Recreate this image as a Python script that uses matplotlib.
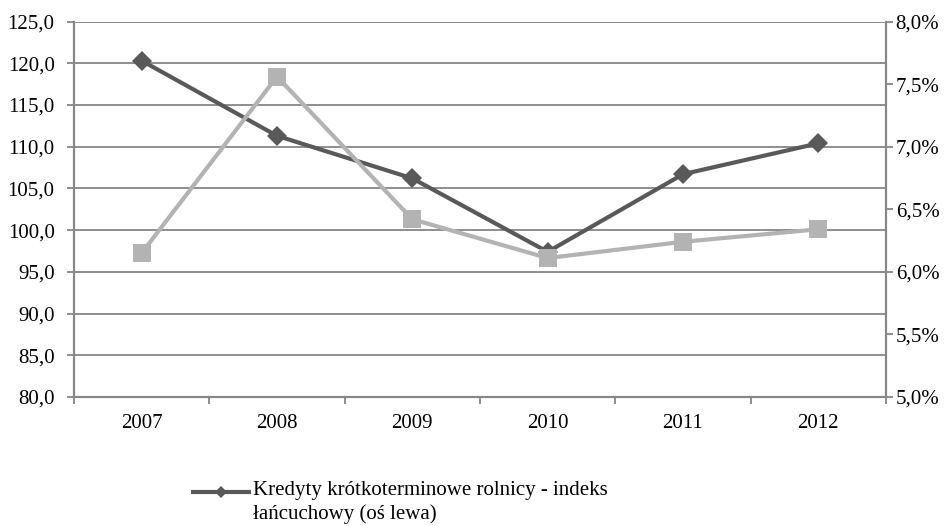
import matplotlib
matplotlib.use("Agg")
import matplotlib.pyplot as plt
from matplotlib.lines import Line2D
from matplotlib.ticker import FuncFormatter, MultipleLocator, FixedLocator
import numpy as np

plt.rcParams['font.family'] = ['Liberation Serif', 'DejaVu Serif']

years = ["2007", "2008", "2009", "2010", "2011", "2012"]
index_chain = [120.3, 111.3, 106.2, 97.4, 106.7, 110.4]        # left axis
rate_pct = [6.15, 7.56, 6.42, 6.11, 6.24, 6.34]                  # right axis, %
label_index = "Kredyty krótkoterminowe rolnicy - indeks\nłańcuchowy (oś lewa)"

dark = "#595959"
light = "#b3b3b3"
axis_gray = "#868686"
fs = 15

W, H = 952, 526
fig = plt.figure(figsize=(W / 100, H / 100), dpi=100)
ax = fig.add_axes([74 / W, 1 - 397 / H, (886 - 74) / W, (397 - 21.5) / H])
ax2 = ax.twinx()

x = np.arange(len(years))

ax.plot(x, index_chain, color=dark, lw=3.0, marker="D", ms=10,
        mec=dark, mew=0, zorder=3)
ax2.plot(x, rate_pct, color=light, lw=3.0, marker="s", ms=13,
         mec=light, mew=0, zorder=3)

ax.set_xlim(-0.5, len(years) - 0.5)
ax.set_ylim(80, 125)
ax2.set_ylim(5.0, 8.0)

ax.yaxis.set_major_locator(MultipleLocator(5))
ax.yaxis.set_major_formatter(FuncFormatter(lambda v, p: f"{v:.1f}".replace(".", ",")))
ax2.yaxis.set_major_locator(MultipleLocator(0.5))
ax2.yaxis.set_major_formatter(FuncFormatter(lambda v, p: f"{v:.1f}%".replace(".", ",")))

ax.set_xticks(x)
ax.set_xticklabels(years)
ax.xaxis.set_minor_locator(FixedLocator(np.arange(-0.5, len(years), 1.0)))
ax.tick_params(axis="x", which="major", length=0, pad=12, labelsize=fs)
ax.tick_params(axis="x", which="minor", length=5, width=1.3, color=axis_gray)
ax.tick_params(axis="y", length=5, width=1.3, color=axis_gray, pad=9, labelsize=fs)
ax2.tick_params(axis="y", length=5, width=1.3, color=axis_gray, pad=2, labelsize=fs)

ax.grid(axis="y", color=axis_gray, lw=1.3)
ax.set_axisbelow(True)

for a in (ax, ax2):
    a.spines["top"].set_visible(False)
    for s in ("left", "right", "bottom"):
        a.spines[s].set_color(axis_gray)
        a.spines[s].set_linewidth(1.5)

# Legend entry for the left-axis series, laid out below the plot
ly = 1 - 492 / H
fig.add_artist(Line2D([193 / W, 249 / W], [ly, ly], color=dark, lw=3.0,
                      transform=fig.transFigure))
fig.add_artist(Line2D([221 / W], [ly], color=dark, marker="D", ms=6, mew=0,
                      transform=fig.transFigure))
for i, line in enumerate(label_index.split("\n")):
    fig.text(253 / W, 1 - (491 + 23 * i) / H, line, fontsize=fs,
             ha="left", va="center")

fig.savefig("out.png", dpi=100)
